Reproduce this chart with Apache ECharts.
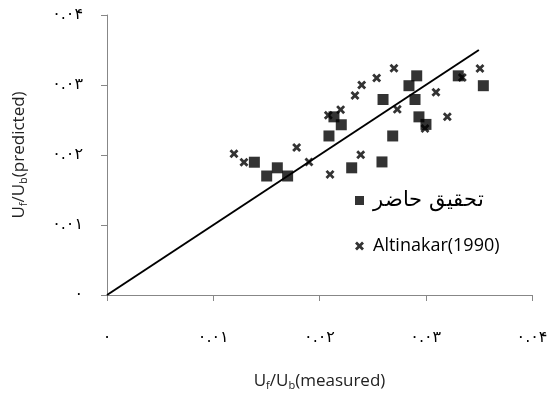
<!DOCTYPE html>
<html><head><meta charset="utf-8">
<script src="https://cdn.jsdelivr.net/npm/echarts@6/dist/echarts.min.js"></script>
<style>html,body{margin:0;padding:0;background:#fff}#c{width:559px;height:396px}</style>
</head><body><div id="c"></div>
<script>
const tickLabels = ['۰', '۰.۰۱', '۰.۰۲', '۰.۰۳', '۰.۰۴'];
const presentX = [0.01387,0.01503,0.01603,0.01700,0.02089,0.02136,0.02205,0.02303,0.02588,0.02598,0.02689,0.02842,0.02915,0.02899,0.02936,0.03002,0.03306,0.03542];
const presentY = [0.01897,0.01700,0.01817,0.01700,0.02272,0.02545,0.02432,0.01817,0.01901,0.02793,0.02272,0.02990,0.03131,0.02793,0.02545,0.02437,0.03131,0.02990];
const altX = [0.01195,0.01289,0.01785,0.01901,0.02099,0.02083,0.02199,0.02334,0.02397,0.02388,0.02538,0.02701,0.02732,0.03096,0.02993,0.03203,0.03344,0.03510];
const altY = [0.02018,0.01897,0.02108,0.01901,0.01723,0.02568,0.02648,0.02849,0.03000,0.02004,0.03099,0.03239,0.02652,0.02897,0.02380,0.02545,0.03108,0.03235];
const lineX = [0, 0.035];
const lineY = [0, 0.035];
const names = ['تحقیق حاضر', 'Altinakar(1990)'];

const crossPath = 'path://M0,2.2L2.2,0L5,2.8L7.8,0L10,2.2L7.2,5L10,7.8L7.8,10L5,7.2L2.2,10L0,7.8L2.8,5Z';
const zip = (a, b) => a.map((v, i) => [v, b[i]]);
const axisCommon = {
  min: 0, max: 0.04, interval: 0.01,
  axisLine: {show: true, lineStyle: {color: '#878787', width: 1}},
  axisTick: {show: true, length: 6, lineStyle: {color: '#878787'}},
  splitLine: {show: false},
  nameLocation: 'middle',
  nameTextStyle: {fontFamily: 'Open Sans', fontSize: 17, color: '#222',
    rich: {sub: {fontSize: 11, fontFamily: 'Open Sans', color: '#222', padding: [9, 0, 0, 0]}}}
};
const chart = echarts.init(document.getElementById('c'), null, {renderer: 'canvas'});
chart.setOption({
  animation: false,
  backgroundColor: '#fff',
  grid: {left: 107, right: 27, top: 15, bottom: 97},
  xAxis: Object.assign({}, axisCommon, {
    type: 'value',
    name: 'U{sub|f}/U{sub|b}(measured)',
    nameGap: 76,
    axisLabel: {margin: 35, color: '#000', fontSize: 16, fontFamily: 'DejaVu Sans',
      formatter: (v) => tickLabels[Math.round(v / 0.01)]}
  }),
  yAxis: Object.assign({}, axisCommon, {
    type: 'value',
    name: 'U{sub|f}/U{sub|b}(predicted)',
    nameGap: 78,
    axisLabel: {margin: 24, color: '#000', fontSize: 16, fontFamily: 'DejaVu Sans',
      formatter: (v) => tickLabels[Math.round(v / 0.01)]}
  }),
  legend: {
    orient: 'vertical', left: 350, top: 185, itemGap: 26,
    itemWidth: 9, itemHeight: 9,
    textStyle: {fontSize: 18, color: '#000', fontFamily: 'Open Sans', padding: [0, 0, 0, 4]},
    data: [
      {name: names[0], icon: 'rect', textStyle: {fontSize: 21, fontFamily: 'DejaVu Serif, serif', padding: [0, 0, 0, 4]}},
      {name: names[1], icon: crossPath, itemStyle: {color: '#000'}}
    ]
  },
  series: [
    {type: 'line', data: zip(lineX, lineY), symbol: 'none', silent: true,
      lineStyle: {color: '#000', width: 2}, z: 1},
    {name: names[0], type: 'scatter', data: zip(presentX, presentY), symbol: 'rect',
      symbolSize: 11, itemStyle: {color: '#000'}, z: 3},
    {name: names[1], type: 'scatter', data: zip(altX, altY), symbol: crossPath,
      symbolSize: 9, itemStyle: {color: '#000'}, z: 4}
  ]
});
</script></body></html>
